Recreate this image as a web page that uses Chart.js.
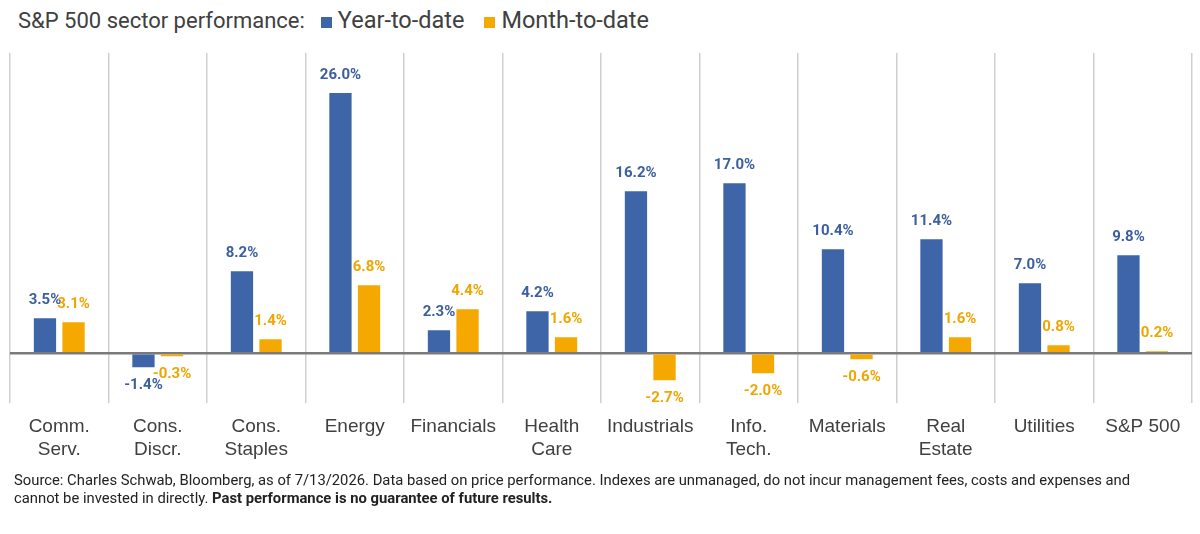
<!DOCTYPE html>
<html>
<head>
  <title>S&amp;P 500 sector performance</title>
  <script src="https://cdn.jsdelivr.net/npm/chart.js@4.4.1/dist/chart.umd.min.js"></script>
  <style>
    body { margin: 0; background: #fff; font-family: Roboto, "Liberation Sans", sans-serif; }
    #wrap { position: relative; width: 1200px; height: 534px; }
    #head { position: absolute; left: 18px; top: 6px; font-size: 22px; color: #404040; white-space: nowrap; }
    #keys { font-size: 23.5px; }
    #head .key { display: inline-block; width: 11px; height: 11px; margin: 0 6px 0 16px; }
    #box { position: absolute; left: 0; top: 45px; width: 1200px; height: 431px; }
    #note { position: absolute; left: 14px; top: 471px; width: 1150px; font-size: 14.8px; line-height: 18px; color: #222; }
  </style>
</head>
<body>
<div id="wrap">
  <div id="head">S&amp;P 500 sector performance:<span id="keys"></span></div>
  <div id="box"><canvas id="sectorChart"></canvas></div>
  <div id="note">Source: Charles Schwab, Bloomberg, as of 7/13/2026. Data based on price performance. Indexes are unmanaged, do not incur management fees, costs and expenses and cannot be invested in directly. <b>Past performance is no guarantee of future results.</b></div>
</div>

<script>
  // sectors and returns (%)
  const sectors = [['Comm.', 'Serv.'], ['Cons.', 'Discr.'], ['Cons.', 'Staples'], 'Energy', 'Financials',
    ['Health', 'Care'], 'Industrials', ['Info.', 'Tech.'], 'Materials', ['Real', 'Estate'], 'Utilities', 'S&P 500'];
  const ytd = [3.5, -1.4, 8.2, 26.0, 2.3, 4.2, 16.2, 17.0, 10.4, 11.4, 7.0, 9.8];
  const mtd = [3.1, -0.3, 1.4, 6.8, 4.4, 1.6, -2.7, -2.0, -0.6, 1.6, 0.8, 0.2];
  const seriesNames = ['Year-to-date', 'Month-to-date'];
  const blue = '#3f65a9';
  const orange = '#f5a800';

  // legend squares in the header line
  document.getElementById('keys').innerHTML =
    `<span class="key" style="background:${blue}"></span>${seriesNames[0]}` +
    `<span class="key" style="background:${orange};margin-left:20px"></span>${seriesNames[1]}`;

  // value labels over / under each bar
  const barLabels = {
    id: 'barLabels',
    afterDatasetsDraw(chart) {
      const ctx = chart.ctx;
      ctx.save();
      ctx.font = 'bold 15px Roboto, sans-serif';
      ctx.textAlign = 'center';
      ctx.textBaseline = 'middle';
      chart.data.datasets.forEach((ds, i) => {
        chart.getDatasetMeta(i).data.forEach((bar, j) => {
          const v = ds.data[j];
          ctx.fillStyle = ds.labelColor;
          const y = v >= 0 ? bar.y - 18 : bar.y + 18;
          ctx.fillText(v.toFixed(1) + '%', bar.x, y);
        });
      });
      ctx.restore();
    }
  };

  new Chart(document.getElementById('sectorChart'), {
    type: 'bar',
    data: {
      labels: sectors,
      datasets: [
        { label: seriesNames[0], data: ytd, backgroundColor: blue, labelColor: '#3c5f9f' },
        { label: seriesNames[1], data: mtd, backgroundColor: orange, labelColor: '#eea600' }
      ]
    },
    options: {
      responsive: true,
      maintainAspectRatio: false,
      animation: false,
      categoryPercentage: 0.58,
      barPercentage: 0.78,
      layout: { padding: { left: 10, right: 8, top: 8, bottom: 3 } },
      plugins: { legend: { display: false }, tooltip: { enabled: false } },
      scales: {
        x: {
          grid: { color: '#cfcfcf', lineWidth: 1.5, drawTicks: false, offset: true },
          border: { display: false },
          ticks: { color: '#404040', font: { size: 19, lineHeight: 1.2 }, padding: 12, maxRotation: 0, autoSkip: false }
        },
        y: {
          min: -5,
          max: 30,
          afterFit(scale) { scale.width = 0; },
          ticks: { display: false, stepSize: 5 },
          border: { display: false },
          grid: {
            drawTicks: false,
            color: c => c.tick && c.tick.value === 0 ? '#7a7a7a' : 'rgba(0,0,0,0)',
            lineWidth: c => c.tick && c.tick.value === 0 ? 2.5 : 0
          }
        }
      }
    },
    plugins: [barLabels]
  });
</script>
</body>
</html>
